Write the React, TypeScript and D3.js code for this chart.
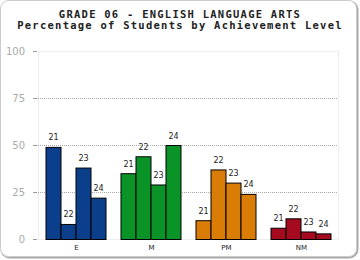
import React, { useEffect, useRef } from 'react';
import * as d3 from 'd3';

const categories = ['E', 'M', 'PM', 'NM'];
const years = ['21', '22', '23', '24'];
const values = [
  [49, 8, 38, 22],
  [35, 44, 29, 50],
  [10, 37, 30, 24],
  [6, 11, 4, 3],
];
const colors = ['#0b3f8c', '#0a9428', '#d97d06', '#a50a1f'];
const yTicks = [0, 25, 50, 75, 100];
const titleLines = ['GRADE 06 - ENGLISH LANGUAGE ARTS', 'Percentage of Students by Achievement Level'];

const App = () => {
  const ref = useRef<SVGSVGElement>(null);

  useEffect(() => {
    if (!ref.current) return;
    const svg = d3.select(ref.current);
    svg.selectAll('*').remove();

    // frame with a soft shadow on the right/bottom
    svg.append('rect')
      .attr('x', 1.5).attr('y', 1.5).attr('width', 356).attr('height', 256)
      .attr('rx', 8).attr('fill', 'none').attr('stroke', '#aaa').attr('stroke-width', 2);
    svg.append('rect')
      .attr('x', 0.5).attr('y', 0.5).attr('width', 356).attr('height', 256)
      .attr('rx', 8).attr('fill', '#fff').attr('stroke', '#ccc');

    svg.selectAll('.title')
      .data(titleLines)
      .enter().append('text')
      .attr('x', 180)
      .attr('y', (d, i) => 18 + i * 11)
      .attr('text-anchor', 'middle')
      .attr('font-family', 'DejaVu Sans Mono')
      .attr('font-weight', 'bold')
      .attr('font-size', 10.5)
      .attr('letter-spacing', 1.25)
      .attr('fill', '#222')
      .text(d => d);

    const left = 38, right = 338, top = 51, bottom = 239;
    const x = d3.scaleBand().domain(categories).range([left, right]).paddingInner(0.2).paddingOuter(0.1);
    const xi = d3.scaleBand().domain(years).range([0, x.bandwidth()]);
    const y = d3.scaleLinear().domain([0, 100]).range([bottom, top]);

    // plot border
    svg.append('rect')
      .attr('x', left + 0.5).attr('y', top + 0.5)
      .attr('width', right - left).attr('height', bottom - top)
      .attr('fill', 'none').attr('stroke', '#eee');

    // grid lines
    svg.selectAll('.grid')
      .data(yTicks.filter(t => t > 0 && t < 100))
      .enter().append('line')
      .attr('x1', left).attr('x2', right)
      .attr('y1', d => y(d) + 0.5).attr('y2', d => y(d) + 0.5)
      .attr('stroke', '#aaa').attr('stroke-dasharray', '1,1');

    // y axis ticks and labels
    svg.selectAll('.tick')
      .data(yTicks)
      .enter().append('line')
      .attr('x1', 33).attr('x2', 37)
      .attr('y1', d => y(d) + 0.5).attr('y2', d => y(d) + 0.5)
      .attr('stroke', '#999');
    svg.selectAll('.ylab')
      .data(yTicks)
      .enter().append('text')
      .attr('x', 25).attr('y', d => y(d) + 3.5)
      .attr('text-anchor', 'end')
      .attr('font-family', 'DejaVu Sans')
      .attr('font-size', 10)
      .attr('fill', '#aaa')
      .text(d => d);

    // bars
    const groups = svg.selectAll('.grp')
      .data(categories)
      .enter().append('g')
      .attr('transform', d => `translate(${x(d)},0)`);

    groups.each(function (cat, ci) {
      const g = d3.select(this);
      g.selectAll('rect')
        .data(values[ci])
        .enter().append('rect')
        .attr('x', (d, i) => (xi(years[i]) as number) + 0.5)
        .attr('y', d => y(d) + 0.5)
        .attr('width', xi.bandwidth())
        .attr('height', d => bottom - y(d))
        .attr('fill', colors[ci])
        .attr('stroke', '#000')
        .attr('stroke-width', 1);
      g.selectAll('text')
        .data(values[ci])
        .enter().append('text')
        .attr('x', (d, i) => (xi(years[i]) as number) + xi.bandwidth() / 2 + 0.5)
        .attr('y', d => y(d) - 6.5)
        .attr('text-anchor', 'middle')
        .attr('font-family', 'DejaVu Sans')
        .attr('font-size', 8)
        .attr('fill', '#222')
        .text((d, i) => years[i]);
    });

    // category labels
    svg.selectAll('.xlab')
      .data(categories)
      .enter().append('text')
      .attr('x', d => (x(d) as number) + x.bandwidth() / 2 + 1)
      .attr('y', 250)
      .attr('text-anchor', 'middle')
      .attr('font-family', 'DejaVu Sans')
      .attr('font-size', 7)
      .attr('fill', '#222')
      .text(d => d);
  }, []);

  return (
    <svg
      ref={ref}
      width={360}
      height={260}
      style={{ position: 'absolute', left: 0, top: 0 }}
    />
  );
};

export default App;
